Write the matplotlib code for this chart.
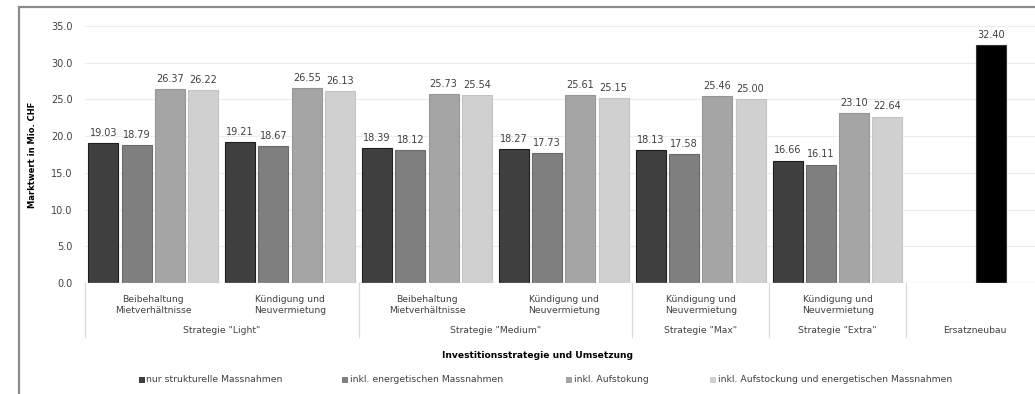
import matplotlib
matplotlib.use("Agg")
import matplotlib.pyplot as plt
from matplotlib.patches import Rectangle
from matplotlib.lines import Line2D
import numpy as np

plt.rcParams['font.family'] = ['DejaVu Sans']

# ---- data ----
sub_labels = ["Beibehaltung\nMietverhältnisse", "Kündigung und\nNeuvermietung",
              "Beibehaltung\nMietverhältnisse", "Kündigung und\nNeuvermietung",
              "Kündigung und\nNeuvermietung", "Kündigung und\nNeuvermietung", ""]
strategies = ['Strategie "Light"', 'Strategie "Medium"', 'Strategie "Max"',
              'Strategie "Extra"', 'Ersatzneubau']
strategy_sizes = [2, 2, 1, 1, 1]

series_names = ["nur strukturelle Massnahmen", "inkl. energetischen Massnahmen",
                "inkl. Aufstokung", "inkl. Aufstockung und energetischen Massnahmen"]
strukturell = [19.03, 19.21, 18.39, 18.27, 18.13, 16.66]
energetisch = [18.79, 18.67, 18.12, 17.73, 17.58, 16.11]
aufstockung = [26.37, 26.55, 25.73, 25.61, 25.46, 23.10]
aufst_energ = [26.22, 26.13, 25.54, 25.15, 25.00, 22.64]
ersatzneubau = 32.40

series_values = [strukturell, energetisch, aufstockung, aufst_energ]
colors = ["#404040", "#7f7f7f", "#a5a5a5", "#d0d0d0"]
edges = ["#1e1e1e", "#6a6a6a", "#969696", "#c4c4c4"]
text_col = "#404040"
fs_num = 7
fs_txt = 6.7

W, H = 1035, 394
fig = plt.figure(figsize=(W / 100, H / 100), dpi=100)

# plot area in pixel terms
px_left, px_right, px_top, px_bottom = 85, 1043, 26, 283
ax = fig.add_axes([px_left / W, 1 - px_bottom / H,
                   (px_right - px_left) / W, (px_bottom - px_top) / H])

n_cat = len(sub_labels)
x = np.arange(n_cat)
bar_w = 0.219
offsets = np.array([-0.366, -0.123, 0.12, 0.363])

for i, vals in enumerate(series_values):
    xs = x[:len(vals)] + offsets[i]
    bars = ax.bar(xs, vals, width=bar_w, color=colors[i], edgecolor=edges[i],
                  linewidth=0.8, zorder=3)
    for b, v in zip(bars, vals):
        ax.annotate(f"{v:.2f}", (b.get_x() + b.get_width() / 2, v),
                    xytext=(0, 3.8), textcoords="offset points",
                    ha="center", va="bottom", fontsize=fs_num, color=text_col)

# single new-build bar in the last category
ax.bar(x[-1] + offsets[2], ersatzneubau, width=bar_w, color="#000000",
       edgecolor="#333333", linewidth=0.8, zorder=3)
ax.annotate(f"{ersatzneubau:.2f}", (x[-1] + offsets[2], ersatzneubau),
            xytext=(0, 3.8), textcoords="offset points",
            ha="center", va="bottom", fontsize=fs_num, color=text_col)

ax.set_xlim(-0.5, n_cat - 0.5)
ax.set_ylim(0, 35)
ax.set_yticks(np.arange(0, 36, 5))
ax.set_yticklabels([f"{t:.1f}" for t in np.arange(0, 36, 5)])
ax.tick_params(axis="y", length=0, labelsize=fs_num, colors=text_col, pad=9)
ax.grid(axis="y", color="#ececec", linewidth=0.8, zorder=0)
ax.axhline(0, color="#d9d9d9", linewidth=0.9, zorder=4)
for s in ax.spines.values():
    s.set_visible(False)
ax.set_xticks([])
ax.set_ylabel("Marktwert in Mio. CHF", fontsize=6.0, fontweight="bold",
              color="#000000")
ax.yaxis.set_label_coords((37 - px_left) / (px_right - px_left), 0.5)

# multi-level category axis
trans = ax.get_xaxis_transform()
y_sub = -0.045
y_grp = -0.183
for xi, lab in zip(x, sub_labels):
    if lab:
        ax.text(xi, y_sub, lab, transform=trans, ha="center", va="top",
                fontsize=fs_txt, color=text_col, linespacing=1.3)
start = 0
sep_bottom = -(337 - 283) / (px_bottom - px_top)
bounds = [start - 0.5]
for name, size in zip(strategies, strategy_sizes):
    center = start + (size - 1) / 2
    ax.text(center, y_grp, name, transform=trans, ha="center", va="center",
            fontsize=fs_txt, color=text_col)
    start += size
    bounds.append(start - 0.5)
for b in bounds:
    ax.add_line(Line2D([b, b], [0, sep_bottom], transform=trans,
                       color="#d9d9d9", linewidth=0.9, clip_on=False))

fig.text(537 / W, 1 - 355 / H, "Investitionsstrategie und Umsetzung",
         ha="center", va="center", fontsize=6.6, fontweight="bold", color="#000000")

# legend
leg_x = [139, 342, 566, 710]
leg_y = 380
sq = 6
for lx, name, c in zip(leg_x, series_names, colors):
    fig.patches.append(Rectangle((lx / W, 1 - (leg_y + sq / 2) / H), sq / W, sq / H,
                                 transform=fig.transFigure, facecolor=c,
                                 edgecolor="none"))
    fig.text((lx + sq + 1.5) / W, 1 - leg_y / H, name, ha="left", va="center",
             fontsize=fs_txt, color=text_col)

# outer frame of the chart area
fig.patches.append(Rectangle((19 / W, -0.2), 1.2, 1.2 - 7 / H,
                             transform=fig.transFigure, facecolor="none",
                             edgecolor="#8c8c8c", linewidth=1.6))

fig.savefig("out.png", dpi=100)
